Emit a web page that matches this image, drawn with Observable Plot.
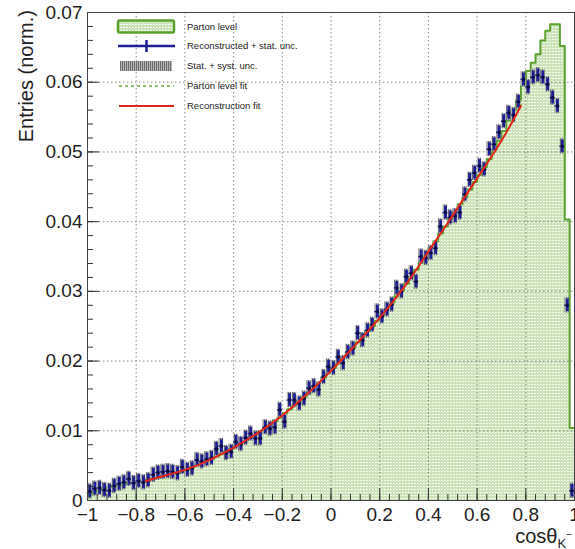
<!DOCTYPE html>
<html><head><meta charset="utf-8">
<script src="https://cdn.jsdelivr.net/npm/d3@7"></script>
<script src="https://cdn.jsdelivr.net/npm/@observablehq/plot@0.6"></script>
<style>
html,body{margin:0;padding:0;background:#fff;}
svg{display:block;}
</style></head><body><div id="chart"></div>
<script>
// ---- data ----
const binStart = -1, binWidth = 0.02;
const partonLevel = [
0.0010,0.0013,0.0015,0.0017,0.0019,0.0021,0.0022,0.0024,0.0025,0.0026,
0.0028,0.0029,0.0030,0.0032,0.0033,0.0035,0.0037,0.0039,0.0041,0.0043,
0.0045,0.0048,0.0051,0.0054,0.0057,0.0060,0.0063,0.0067,0.0071,0.0074,
0.0078,0.0082,0.0086,0.0091,0.0095,0.0099,0.0104,0.0109,0.0114,0.0119,
0.0125,0.0131,0.0137,0.0143,0.0149,0.0155,0.0162,0.0169,0.0176,0.0183,
0.0190,0.0197,0.0205,0.0212,0.0219,0.0227,0.0235,0.0243,0.0250,0.0258,
0.0266,0.0275,0.0284,0.0293,0.0302,0.0311,0.0321,0.0331,0.0341,0.0352,
0.0362,0.0372,0.0383,0.0393,0.0404,0.0414,0.0425,0.0435,0.0446,0.0457,
0.0467,0.0478,0.0490,0.0503,0.0516,0.0530,0.0545,0.0560,0.0575,0.0595,
0.0616,0.0628,0.0640,0.0660,0.0674,0.0683,0.0683,0.0652,0.0403,0.0104];
const reconstructed = [
0.0013,0.0017,0.0018,0.0015,0.0014,0.0021,0.0024,0.0026,0.0031,0.0025,
0.0028,0.0026,0.0029,0.0037,0.0040,0.0041,0.0042,0.0041,0.0039,0.0048,
0.0044,0.0046,0.0058,0.0056,0.0059,0.0061,0.0074,0.0078,0.0068,0.0070,
0.0084,0.0081,0.0090,0.0096,0.0089,0.0089,0.0105,0.0103,0.0105,0.0130,
0.0113,0.0144,0.0144,0.0139,0.0146,0.0161,0.0164,0.0159,0.0177,0.0192,
0.0190,0.0206,0.0197,0.0213,0.0218,0.0240,0.0230,0.0244,0.0252,0.0271,
0.0264,0.0274,0.0281,0.0305,0.0300,0.0321,0.0326,0.0314,0.0350,0.0348,
0.0355,0.0362,0.0393,0.0413,0.0406,0.0408,0.0413,0.0439,0.0460,0.0470,
0.0480,0.0475,0.0504,0.0511,0.0528,0.0544,0.0556,0.0553,0.0572,0.0604,
0.0593,0.0607,0.0610,0.0607,0.0597,0.0578,0.0566,0.0508,0.0280,0.0014];
const statUnc = 0.0009;
const systUnc = 0.0011;
const recoFitX = [-0.76,-0.7,-0.6,-0.5,-0.4,-0.3,-0.2,-0.1,0,0.1,0.2,0.3,0.4,0.5,0.6,0.7,0.78];
const recoFitY = [0.0028,0.0034,0.0044,0.0058,0.0076,0.0097,0.0122,0.0152,0.0186,0.0223,0.0262,0.0306,0.0357,0.0409,0.0462,0.0516,0.0566];
const partonFitX = [-1,-0.96,-0.92,-0.88,-0.84,-0.8,-0.76,-0.7,-0.6,-0.5,-0.4,-0.3,-0.2,-0.1,0,0.1,0.2,0.3,0.4,0.5,0.6,0.7,0.78];
const partonFitY = [0.0003,0.0013,0.0018,0.0021,0.0024,0.0027,0.0029,0.0034,0.0044,0.0058,0.0076,0.0097,0.0122,0.0152,0.0186,0.0223,0.0262,0.0306,0.0357,0.0409,0.0462,0.0516,0.0568];
const xTicks = [-1,-0.8,-0.6,-0.4,-0.2,0,0.2,0.4,0.6,0.8,1];
const xTickLabels = ["\u22121","\u22120.8","\u22120.6","\u22120.4","\u22120.2","0","0.2","0.4","0.6","0.8","1"];
const yTicks = [0,0.01,0.02,0.03,0.04,0.05,0.06,0.07];
const yTickLabels = ["0","0.01","0.02","0.03","0.04","0.05","0.06","0.07"];
const legendLabels = ["Parton level","Reconstructed + stat. unc.","Stat. + syst. unc.","Parton level fit","Reconstruction fit"];

// ---- tables ----
const hist = partonLevel.map((v,i)=>({x: binStart + i*binWidth, y: v}));
hist.push({x: binStart + partonLevel.length*binWidth, y: partonLevel[partonLevel.length-1]});
const pts = reconstructed.map((v,i)=>({x: binStart + (i+0.5)*binWidth, y: v}));
const recoFit = recoFitX.map((x,i)=>({x, y: recoFitY[i]}));
const partonFit = partonFitX.map((x,i)=>({x, y: partonFitY[i]}));
const xMinor = d3.range(-1, 1.0001, 0.04);
const yMinor = d3.range(0, 0.07001, 0.002);

const W = 575, H = 549, mL = 87, mR = 1, mT = 12, mB = 49;
const pw = W - mL - mR, ph = H - mT - mB;
const green = "#5ba12f", navy = "#1c1f96", red = "#e3261d";

const plot = Plot.plot({
  width: W, height: H,
  marginLeft: mL, marginRight: mR, marginTop: mT, marginBottom: mB,
  style: {fontFamily: "'Liberation Sans', Arial, Helvetica, sans-serif", background: "#fff", color: "#222"},
  x: {domain: [-1, 1]},
  y: {domain: [0, 0.07]},
  marks: [
    Plot.areaY(hist, {x: "x", y: "y", curve: "step-after", fill: "url(#dots)"}),
    Plot.gridX(xTicks.slice(1, -1), {stroke: "#6f6f6f", strokeOpacity: 0.8, strokeDasharray: "1.5,2.5"}),
    Plot.gridY(yTicks.slice(1, -1), {stroke: "#6f6f6f", strokeOpacity: 0.8, strokeDasharray: "1.5,2.5"}),
    Plot.lineY(hist, {x: "x", y: "y", curve: "step-after", stroke: green, strokeWidth: 2}),
    Plot.rect(pts, {x1: d => d.x - 0.009, x2: d => d.x + 0.009, y1: d => d.y - systUnc, y2: d => d.y + systUnc, fill: "url(#stripes)"}),
    Plot.line(partonFit, {x: "x", y: "y", curve: "natural", stroke: "#6bb23a", strokeWidth: 1.5, strokeDasharray: "3,3"}),
    Plot.ruleX(pts, {x: "x", y1: d => d.y - statUnc, y2: d => d.y + statUnc, stroke: navy, strokeWidth: 2.8}),
    Plot.ruleY(pts, {y: "y", x1: d => d.x - binWidth/2, x2: d => d.x + binWidth/2, stroke: navy, strokeWidth: 1.5}),
    Plot.dot(pts, {x: "x", y: "y", r: 1.6, fill: "#0b0b3a"}),
    Plot.line(recoFit, {x: "x", y: "y", curve: "natural", stroke: red, strokeWidth: 2}),
    Plot.ruleY(yTicks, {y: d => d, insetRight: pw - 12, stroke: "#333"}),
    Plot.ruleY(yMinor, {y: d => d, insetRight: pw - 6, stroke: "#333"}),
    Plot.ruleX(xTicks, {x: d => d, insetTop: ph - 12, stroke: "#333"}),
    Plot.ruleX(xMinor, {x: d => d, insetTop: ph - 6, stroke: "#333"}),
    Plot.frame({stroke: "#444"}),
    Plot.axisY({ticks: yTicks, tickFormat: (d, i) => yTickLabels[i], tickSize: 0, tickPadding: 5, fontSize: 19, label: null}),
    Plot.axisX({ticks: xTicks, tickFormat: (d, i) => xTickLabels[i], tickSize: 0, tickPadding: 7, fontSize: 19, label: null})
  ]
});
document.getElementById("chart").appendChild(plot);

const svg = d3.select(plot);
const defs = svg.insert("defs", ":first-child");
const pd = defs.append("pattern").attr("id", "dots").attr("patternUnits", "userSpaceOnUse").attr("width", 3).attr("height", 3);
pd.append("rect").attr("width", 3).attr("height", 3).attr("fill", "#cce3b9");
pd.append("rect").attr("width", 1).attr("height", 1).attr("fill", "#ffffff");
pd.append("rect").attr("x", 1).attr("width", 1).attr("height", 1).attr("fill", "#eef6e8");
const ps = defs.append("pattern").attr("id", "stripes").attr("patternUnits", "userSpaceOnUse").attr("width", 2).attr("height", 2);
ps.append("rect").attr("width", 2).attr("height", 2).attr("fill", "#b4b4b4");
ps.append("rect").attr("width", 1).attr("height", 2).attr("fill", "#6e6e6e");

// axis titles
svg.append("text").attr("transform", "translate(33,10) rotate(-90)").attr("text-anchor", "end")
  .attr("font-size", 20).attr("fill", "#222").text("Entries (norm.)");
const xt = svg.append("text").attr("x", 572).attr("y", 543).attr("text-anchor", "end").attr("font-size", 20).attr("fill", "#222");
xt.append("tspan").text("cos\u03B8");
xt.append("tspan").attr("font-size", 13).attr("dy", 5).text("K");
xt.append("tspan").attr("font-size", 10).attr("dy", -10).text("\u2212");

// legend
const lg = svg.append("g").attr("font-size", 9.5).attr("fill", "#222").attr("text-anchor", "start");
const rows = [27, 46, 66, 86, 106];
lg.append("rect").attr("x", 118).attr("y", 20.5).attr("width", 56).attr("height", 12).attr("fill", "url(#dots)").attr("stroke", green).attr("stroke-width", 2.5).attr("rx", 1.5);
lg.append("line").attr("x1", 118).attr("x2", 175).attr("y1", rows[1]).attr("y2", rows[1]).attr("stroke", navy).attr("stroke-width", 2.5);
lg.append("line").attr("x1", 146.5).attr("x2", 146.5).attr("y1", rows[1] - 6).attr("y2", rows[1] + 6).attr("stroke", navy).attr("stroke-width", 2.5);
lg.append("rect").attr("x", 120).attr("y", rows[2] - 5).attr("width", 52).attr("height", 10).attr("fill", "url(#stripes)");
lg.append("line").attr("x1", 119).attr("x2", 174).attr("y1", rows[3]).attr("y2", rows[3]).attr("stroke", "#6bb23a").attr("stroke-width", 1.5).attr("stroke-dasharray", "3,3");
lg.append("line").attr("x1", 119).attr("x2", 174).attr("y1", rows[4]).attr("y2", rows[4]).attr("stroke", red).attr("stroke-width", 2);
legendLabels.forEach((t, i) => {
  lg.append("text").attr("x", 187).attr("y", rows[i]).attr("dy", "0.35em").attr("text-anchor", "start").text(t);
});
</script></body></html>
